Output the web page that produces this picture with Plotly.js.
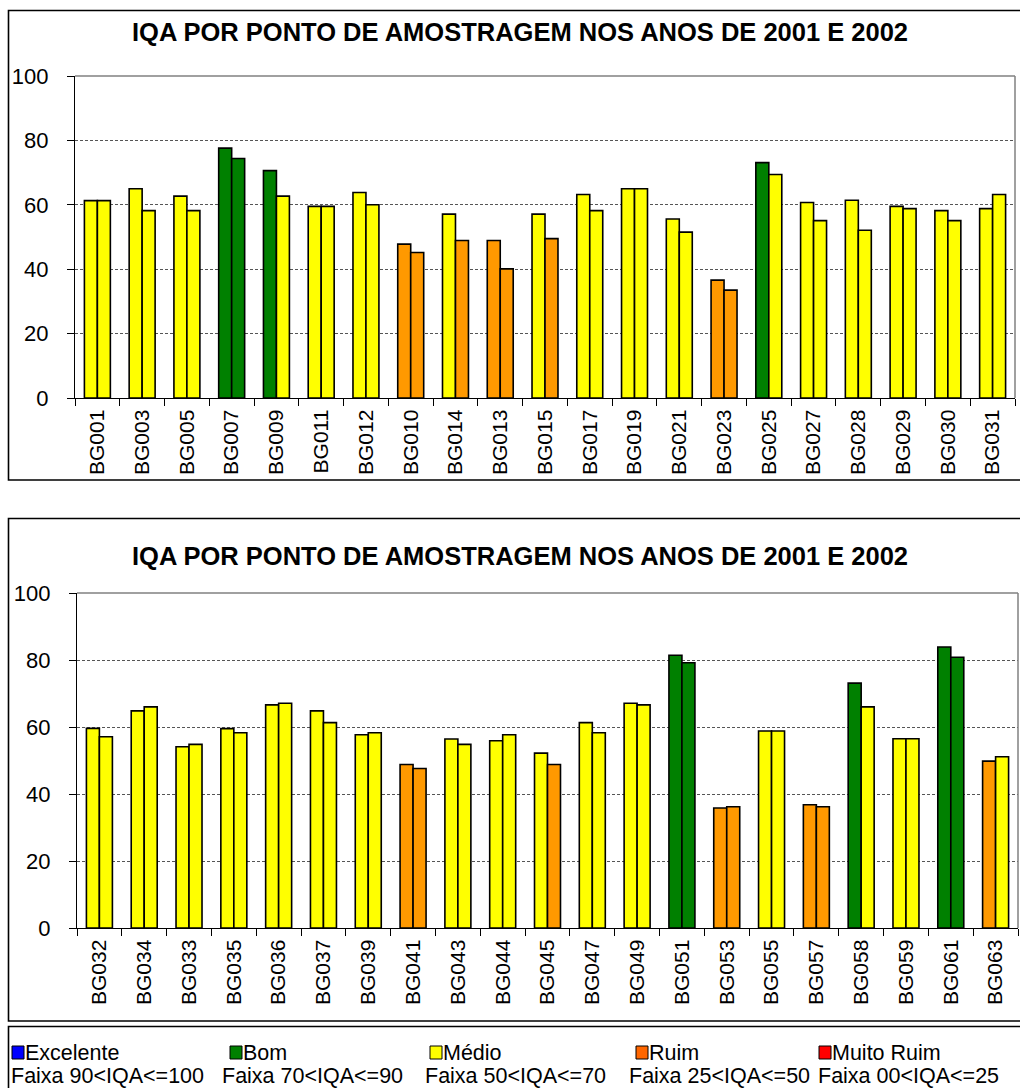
<!DOCTYPE html>
<html>
<head>
<meta charset="utf-8">
<script src="https://cdn.plot.ly/plotly-3.0.1.min.js"></script>
<style>
html,body{margin:0;padding:0;background:#fff;}
#chart{width:1020px;height:1088px;}
</style>
</head>
<body>
<div id="chart"></div>
<script>
// ---- DATA ----
const chartTitle = "IQA POR PONTO DE AMOSTRAGEM NOS ANOS DE 2001 E 2002";
const topStations = ["BG001","BG003","BG005","BG007","BG009","BG011","BG012","BG010","BG014","BG013","BG015","BG017","BG019","BG021","BG023","BG025","BG027","BG028","BG029","BG030","BG031"];
const top2001 = [61.3,65.0,62.7,77.6,70.6,59.5,63.8,47.8,57.1,48.9,57.1,63.2,65.0,55.6,36.6,73.1,60.7,61.4,59.5,58.2,58.8];
const top2002 = [61.3,58.2,58.2,74.4,62.7,59.5,60.0,45.2,48.9,40.1,49.5,58.2,65.0,51.5,33.5,69.4,55.1,52.1,58.8,55.1,63.2];
const botStations = ["BG032","BG034","BG033","BG035","BG036","BG037","BG039","BG041","BG043","BG044","BG045","BG047","BG049","BG051","BG053","BG055","BG057","BG058","BG059","BG061","BG063"];
const bot2001 = [59.6,64.8,54.1,59.5,66.6,64.8,57.7,48.8,56.4,55.9,52.2,61.3,67.1,81.4,35.8,58.8,36.8,73.1,56.5,83.9,49.8];
const bot2002 = [57.1,66.0,54.8,58.3,67.1,61.3,58.3,47.6,54.8,57.7,48.8,58.3,66.6,79.2,36.2,58.8,36.2,66.0,56.5,80.8,51.1];
const classNames = ["Excelente","Bom","Médio","Ruim","Muito Ruim"];
const classRanges = ["Faixa 90<IQA<=100","Faixa 70<IQA<=90","Faixa 50<IQA<=70","Faixa 25<IQA<=50","Faixa 00<IQA<=25"];
const classLower = [90,70,50,25,0];
const barColors = ["#0000FF","#008000","#FFFF00","#FF9900","#FF0000"];
const swatchColors = ["#0000FF","#008000","#FFFF00","#FF6600","#FF0000"];

// ---- HELPERS ----
const W = 1020, H = 1088;
const px = x => x / W;
const py = y => 1 - y / H;
function colorFor(v){
  for (let i = 0; i < classLower.length; i++) if (v > classLower[i]) return barColors[i];
  return barColors[barColors.length-1];
}
const FONT = "Liberation Sans, Arial, sans-serif";

function barTrace(xs, ys, name, xa, ya){
  return {
    type: "bar", x: xs, y: ys, name: name, xaxis: xa, yaxis: ya,
    marker: {color: ys.map(colorFor), line: {color: "#000", width: 1.6}},
    hoverinfo: "x+y", showlegend: false
  };
}

const data = [
  barTrace(topStations, top2001, "2001", "x", "y"),
  barTrace(topStations, top2002, "2002", "x", "y"),
  barTrace(botStations, bot2001, "2001", "x2", "y2"),
  barTrace(botStations, bot2002, "2002", "x2", "y2")
];

function xAxis(domain, anchor){
  return {
    domain: domain, anchor: anchor, type: "category",
    showline: true, linecolor: "#000", linewidth: 1.2,
    ticks: "outside", tickson: "boundaries", ticklen: 7, tickcolor: "#000", tickwidth: 1,
    tickangle: -90, tickfont: {family: FONT, size: 21, color: "#000"},
    ticklabelstandoff: 2,
    showgrid: false, zeroline: false, fixedrange: true
  };
}
function yAxis(domain, anchor){
  return {
    domain: domain, anchor: anchor, range: [0, 100], tickvals: [0,20,40,60,80,100],
    showline: true, linecolor: "#000", linewidth: 1.2,
    ticks: "outside", ticklen: 7, tickcolor: "#000", tickwidth: 1,
    tickfont: {family: FONT, size: 22, color: "#000"},
    ticklabelstandoff: 14,
    showgrid: true, gridcolor: "#555", griddash: "3px,2px", gridwidth: 1,
    zeroline: false, fixedrange: true
  };
}

const shapes = [];
const annotations = [];
function rectPx(x0,y0,x1,y1,lw){
  shapes.push({type:"rect", xref:"paper", yref:"paper", x0:px(x0), x1:px(x1), y0:py(y1), y1:py(y0),
    line:{color:"#000", width:lw}, fillcolor:"rgba(0,0,0,0)", layer:"below"});
}
// chart frames
rectPx(8.5, 10.5, 1030, 480, 1.6);
rectPx(8.5, 518.5, 1030, 1021, 1.6);
rectPx(8.5, 1026.5, 1030, 1100, 1.6);

// plot area top/right grey borders
["", "2"].forEach(s => {
  shapes.push({type:"line", xref:"x"+s+" domain", yref:"y"+s+" domain", x0:0, x1:1, y0:1, y1:1, line:{color:"#808080", width:1.5}});
  shapes.push({type:"line", xref:"x"+s+" domain", yref:"y"+s+" domain", x0:1, x1:1, y0:0, y1:1, line:{color:"#808080", width:1.5}});
});

// titles
[32, 556].forEach(yc => {
  annotations.push({text: "<b>"+chartTitle+"</b>", xref:"paper", yref:"paper", x: px(520), y: py(yc),
    xanchor:"center", yanchor:"middle", showarrow:false, font:{family:FONT, size:25.5, color:"#000"}});
});

// legend
const swX = [12, 230, 430, 636, 819];
const rowX = [9, 220, 423, 627, 816];
classNames.forEach((n, i) => {
  shapes.push({type:"rect", xref:"paper", yref:"paper", x0:px(swX[i]), x1:px(swX[i]+12), y0:py(1059), y1:py(1046),
    fillcolor: swatchColors[i], line:{color:"#000", width:1}});
  annotations.push({text: n, xref:"paper", yref:"paper", x: px(swX[i]+11), y: py(1053), xanchor:"left", yanchor:"middle",
    showarrow:false, font:{family:FONT, size:21.5, color:"#000"}});
  annotations.push({text: classRanges[i], xref:"paper", yref:"paper", x: px(rowX[i]), y: py(1076), xanchor:"left", yanchor:"middle",
    showarrow:false, font:{family:FONT, size:21.5, color:"#000"}});
});

const layout = {
  width: W, height: H,
  margin: {l:0, r:0, t:0, b:0, pad:0},
  paper_bgcolor: "#fff", plot_bgcolor: "#fff",
  barmode: "group", bargap: 0.42, bargroupgap: 0,
  showlegend: false,
  xaxis: xAxis([px(75), px(1015)], "y"),
  yaxis: yAxis([py(398), py(76)], "x"),
  xaxis2: xAxis([px(77), px(1018)], "y2"),
  yaxis2: yAxis([py(928), py(593)], "x2"),
  shapes: shapes,
  annotations: annotations,
  font: {family: FONT, color: "#000"}
};

Plotly.newPlot("chart", data, layout, {displayModeBar: false, staticPlot: true});
</script>
</body>
</html>
